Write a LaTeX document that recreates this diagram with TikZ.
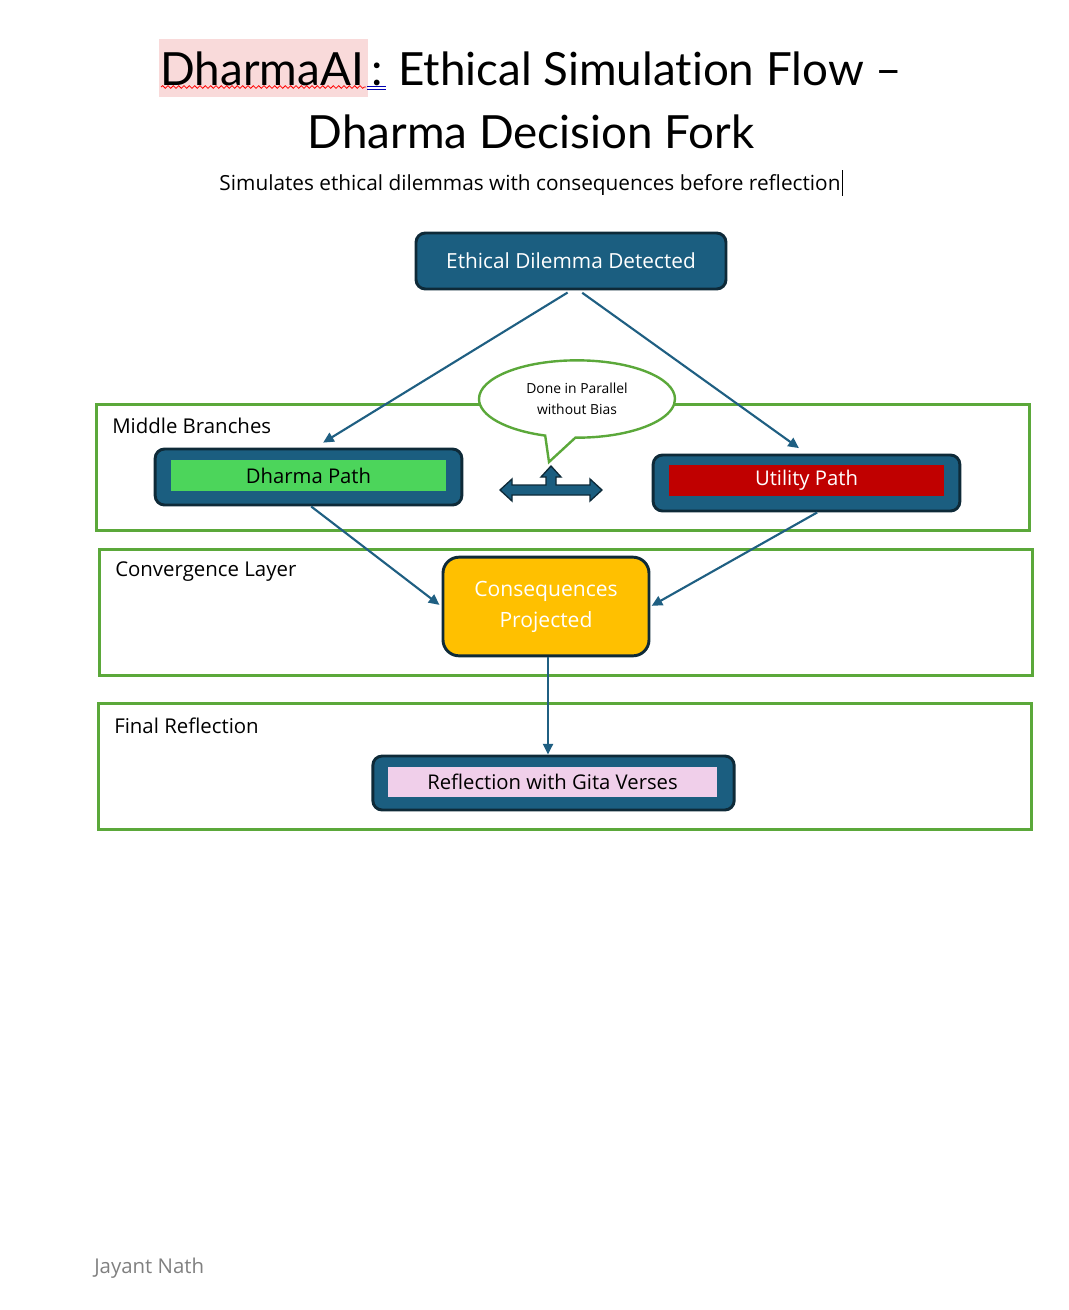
\documentclass[tikz,border=0pt]{standalone}
\usepackage{fontspec}
\setmainfont{Open Sans}
\newfontfamily\titlefont{Lato}[Ligatures=NoCommon]
\usetikzlibrary{arrows.meta,shapes.callouts,decorations.pathmorphing}

\definecolor{boxblue}{HTML}{1B5E80}
\definecolor{boxedge}{HTML}{0E2A38}
\definecolor{flowblue}{HTML}{1F5F82}
\definecolor{framegreen}{HTML}{5BA83A}
\definecolor{dharmagreen}{HTML}{4CD55B}
\definecolor{utilred}{HTML}{C00000}
\definecolor{consyellow}{HTML}{FFC000}
\definecolor{gitapink}{HTML}{F0CFEA}
\definecolor{markpink}{HTML}{F9DADA}

\tikzset{
  frame/.style={draw=framegreen, line width=2.25pt},
  layerlabel/.style={anchor=west, inner sep=0pt, font=\fontsize{15.3}{18}\selectfont},
  pathbox/.style={draw=boxedge, fill=boxblue, line width=2.2pt, rounded corners=7pt},
  pathtag/.style={inner sep=0pt, font=\fontsize{15.2}{18}\selectfont},
  flow/.style={draw=flowblue, line width=1.6pt, -{Triangle[length=8pt,width=7.5pt]}},
}

\begin{document}
\begin{tikzpicture}[x=0.75pt, y=-0.75pt]
\useasboundingbox (0,0) rectangle (1068,1310);

% title
\node[fill=markpink, anchor=base west, inner xsep=1pt, inner ysep=9pt,
      font=\titlefont\fontsize{34.3}{36}\selectfont] (brand) at (159,85) {DharmaAI\kern2pt};
\node[anchor=base west, inner sep=0pt, font=\titlefont\fontsize{34.3}{36}\selectfont]
    (title) at ([xshift=2pt]brand.base east) {: Ethical Simulation Flow –};
\draw[red, line width=0.6pt, decorate, decoration={snake, amplitude=1pt, segment length=4pt}]
    (161,87) -- (366,87);
\draw[blue!70!black, line width=0.6pt]
    (367,86) -- (386,86) (367,89) -- (386,89);
\node[anchor=base, inner sep=0pt, font=\titlefont\fontsize{34.3}{36}\selectfont]
    (fork) at (531,148) {Dharma Decision Fork};
\node[anchor=base, inner sep=0pt, font=\fontsize{15.6}{18}\selectfont]
    (subtitle) at (530,190) {Simulates ethical dilemmas with consequences before reflection};
\draw[line width=0.8pt] ([xshift=1pt]subtitle.base east) ++(0,-20) -- ++(0,26);

% layers
\draw[frame] (96,404) rectangle (1029,530);
\draw[frame] (99,549) rectangle (1032,675);
\draw[frame] (98,703) rectangle (1031,829);
\node[layerlabel] (midlabel) at (112,426) {Middle Branches};
\node[layerlabel] (convlabel) at (115,572) {Convergence Layer};
\node[layerlabel] (finlabel) at (114,726) {Final Reflection};

% top
\node[pathbox, minimum width=232.5pt, minimum height=42pt, text=white,
      font=\fontsize{15.6}{18}\selectfont] (ethical) at (571,261) {Ethical Dilemma Detected};

% middle branches
\node[pathbox, minimum width=230pt, minimum height=42pt] (dharma) at (308.5,477) {};
\node[pathtag, fill=dharmagreen, minimum width=206pt, minimum height=23pt]
    (dharmatag) at (308.5,475.5) {Dharma Path};
\node[pathbox, minimum width=230pt, minimum height=42pt] (utility) at (806.5,483) {};
\node[pathtag, fill=utilred, text=white, minimum width=206pt, minimum height=23pt]
    (utilitytag) at (806.5,480.5) {Utility Path};

\node[ellipse callout, draw=framegreen, fill=white, line width=1.8pt,
      callout absolute pointer={(549,462)}, callout pointer arc=18,
      minimum width=147pt, minimum height=58pt, align=center, inner sep=0pt,
      font=\fontsize{10.4}{15.75}\selectfont] (parallel) at (577,399) {Done in Parallel\\without Bias};

\draw[draw=boxedge, fill=boxblue, line width=1pt, shift={(551,490)}]
    (-51,0) -- (-39,-11) -- (-39,-5) -- (-5,-5) -- (-5,-13) -- (-10,-13) -- (0,-24)
    -- (10,-13) -- (5,-13) -- (5,-5) -- (39,-5) -- (39,-11) -- (51,0) -- (39,11)
    -- (39,5) -- (-39,5) -- (-39,11) -- cycle;

% convergence
\node[draw=boxedge, fill=consyellow, line width=2.2pt, rounded corners=12pt,
      minimum width=154.5pt, minimum height=74pt, text=white, align=center,
      font=\fontsize{15.8}{23.25}\selectfont] (cons) at (546,606.5) {Consequences\\Projected};

% final
\node[pathbox, minimum width=271pt, minimum height=40.5pt] (refl) at (553.5,783) {};
\node[pathtag, fill=gitapink, minimum width=247pt, minimum height=22.5pt]
    (refltag) at (552.5,782) {Reflection with Gita Verses};

% connectors
\draw[flow, shorten <=3pt, shorten >=7pt] (ethical.south) -- ([xshift=5pt]dharma.north);
\draw[flow, shorten <=3pt, shorten >=7pt] ([xshift=6pt]ethical.south) -- (utility.north);
\draw[flow, shorten >=2pt] ([xshift=2pt]dharma.south) -- (cons.west);
\draw[flow, shorten >=1pt] ([xshift=8pt]utility.south) -- (cons.east);
\draw[flow] ([xshift=1.5pt]cons.south) -- ([xshift=1.5pt]cons.south |- refl.north);

\node[anchor=base west, inner sep=0pt, text=black!50, font=\fontsize{15.3}{18}\selectfont]
    (author) at (94,1273) {Jayant Nath};
\end{tikzpicture}
\end{document}
